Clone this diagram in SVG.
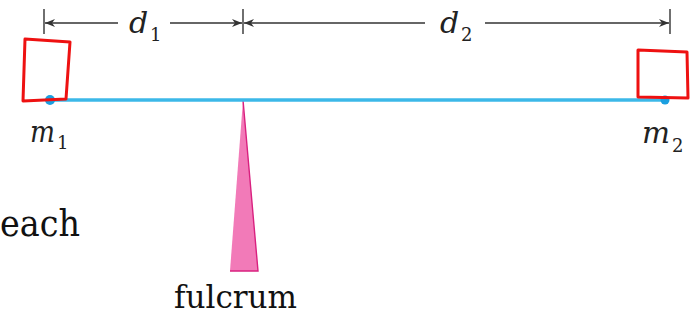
<svg xmlns="http://www.w3.org/2000/svg" width="690" height="320" viewBox="0 0 690 320">
<defs>
<marker id="ah" viewBox="0 0 10 8" refX="10" refY="4" markerWidth="10" markerHeight="8" markerUnits="userSpaceOnUse" orient="auto">
<path d="M0,0 L10,4 L0,8 L3,4 Z" fill="#333"/>
</marker>
</defs>
<g id="connectors" stroke="#333" stroke-width="1.4" fill="none">
<line x1="44" y1="9" x2="44" y2="34"/>
<line x1="243" y1="9" x2="243" y2="34"/>
<line x1="670" y1="9" x2="670" y2="34"/>
<line x1="118" y1="23" x2="45" y2="23" marker-end="url(#ah)"/>
<line x1="170" y1="23" x2="242" y2="23" marker-end="url(#ah)"/>
<line x1="425" y1="23" x2="244" y2="23" marker-end="url(#ah)"/>
<line x1="485" y1="23" x2="669" y2="23" marker-end="url(#ah)"/>
</g>
<g id="d1-label" font-family="DejaVu Serif, Liberation Serif, serif" fill="#222">
<text x="129" y="33" font-size="30" font-style="italic">d</text>
<text x="150" y="41" font-size="18">1</text>
</g>
<g id="d2-label" font-family="DejaVu Serif, Liberation Serif, serif" fill="#222">
<text x="440" y="33" font-size="30" font-style="italic">d</text>
<text x="461" y="41" font-size="18">2</text>
</g>
<g id="fulcrum">
<polygon points="243,100 258,271 230,271" fill="#f27ab8"/>
<polyline points="243,100 258,271 230,271" fill="none" stroke="#d9207f" stroke-width="1.4"/>
<text x="174" y="308" font-family="DejaVu Serif, Liberation Serif, serif" font-size="32" fill="#111" textLength="123" lengthAdjust="spacingAndGlyphs">fulcrum</text>
</g>
<g id="beam">
<line x1="50" y1="100" x2="665" y2="100" stroke="#3cb8e8" stroke-width="3.5"/>
</g>
<g id="m1" font-family="DejaVu Serif, Liberation Serif, serif" fill="#222">
<circle cx="50" cy="100" r="5" fill="#1a9fe0"/>
<text x="30" y="142" font-size="30" font-style="italic" textLength="25" lengthAdjust="spacingAndGlyphs">m</text>
<text x="57" y="149" font-size="18">1</text>
</g>
<g id="m2" font-family="DejaVu Serif, Liberation Serif, serif" fill="#222">
<circle cx="665" cy="100" r="4.5" fill="#1a9fe0"/>
<text x="642" y="143" font-size="30" font-style="italic" textLength="28" lengthAdjust="spacingAndGlyphs">m</text>
<text x="672" y="152" font-size="18">2</text>
</g>
<g id="marks" fill="none" stroke="#ee1111" stroke-width="3" stroke-linejoin="round">
<path d="M25,39 L70,42 L66,99 L23,101 Z"/>
<path d="M638,50 L687,52 L688,98 L638,97 Z"/>
</g>
<g id="each">
<text x="0" y="236" font-family="DejaVu Serif, Liberation Serif, serif" font-size="38" fill="#111" textLength="80" lengthAdjust="spacingAndGlyphs">each</text>
</g>
</svg>
